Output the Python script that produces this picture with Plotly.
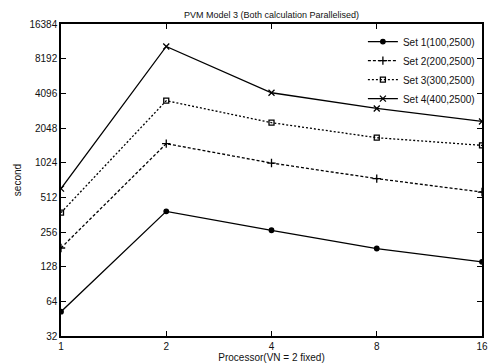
import plotly.graph_objects as go

processors = [1, 2, 4, 8, 16]
set1 = [52, 387, 265, 184, 141]
set2 = [186, 1497, 1016, 744, 569]
set3 = [377, 3534, 2277, 1687, 1447]
set4 = [609, 10456, 4144, 3029, 2336]
names = ["Set 1(100,2500)", "Set 2(200,2500)", "Set 3(300,2500)", "Set 4(400,2500)"]
x_ticks = [1, 2, 4, 8, 16]
y_ticks = [32, 64, 128, 256, 512, 1024, 2048, 4096, 8192, 16384]

styles = [
    dict(dash="solid", symbol="circle", size=4.5),
    dict(dash="3px,2px", symbol="cross-thin", size=6),
    dict(dash="2px,2px", symbol="square-open", size=5),
    dict(dash="solid", symbol="x-thin", size=6),
]

fig = go.Figure()
for name, ys, st in zip(names, [set1, set2, set3, set4], styles):
    fig.add_trace(go.Scatter(
        x=processors, y=ys, name=name, mode="lines+markers",
        line=dict(color="black", width=1.3, dash=st["dash"]),
        marker=dict(symbol=st["symbol"], size=st["size"], color="black",
                    line=dict(color="black", width=1.3)),
    ))

font = dict(family="Liberation Sans, Arial, sans-serif", size=10, color="#111")
fig.update_layout(
    width=491, height=363,
    margin=dict(l=61, r=3, t=24, b=27),
    paper_bgcolor="white", plot_bgcolor="white",
    font=font,
    title=dict(text="PVM Model 3 (Both calculation Parallelised)", x=0.5,
               xref="paper", y=0.96, yanchor="middle", font=dict(size=9)),
    showlegend=True,
    legend=dict(x=0.995, y=0.99, xanchor="right", yanchor="top",
                bgcolor="rgba(0,0,0,0)", font=dict(size=10),
                itemwidth=30, tracegroupgap=0),
    xaxis=dict(type="log", range=[0, 1.20412], tickvals=x_ticks,
               ticktext=[str(v) for v in x_ticks], ticklabeloverflow="allow",
               showgrid=False, zeroline=False, showline=True, linecolor="black",
               linewidth=1.5, mirror="ticks", ticks="inside", ticklen=5,
               tickcolor="black",
               title=dict(text="Processor(VN = 2 fixed)", standoff=0, font=dict(size=10))),
    yaxis=dict(type="log", range=[1.50514997832, 4.21441993929], tickvals=y_ticks,
               ticktext=[str(v) for v in y_ticks],
               showgrid=False, zeroline=False, showline=True, linecolor="black",
               linewidth=1.5, mirror="ticks", ticks="inside", ticklen=5,
               tickcolor="black",
               title=dict(text="second", standoff=6, font=dict(size=10))),
)
fig.write_html("out.html")
